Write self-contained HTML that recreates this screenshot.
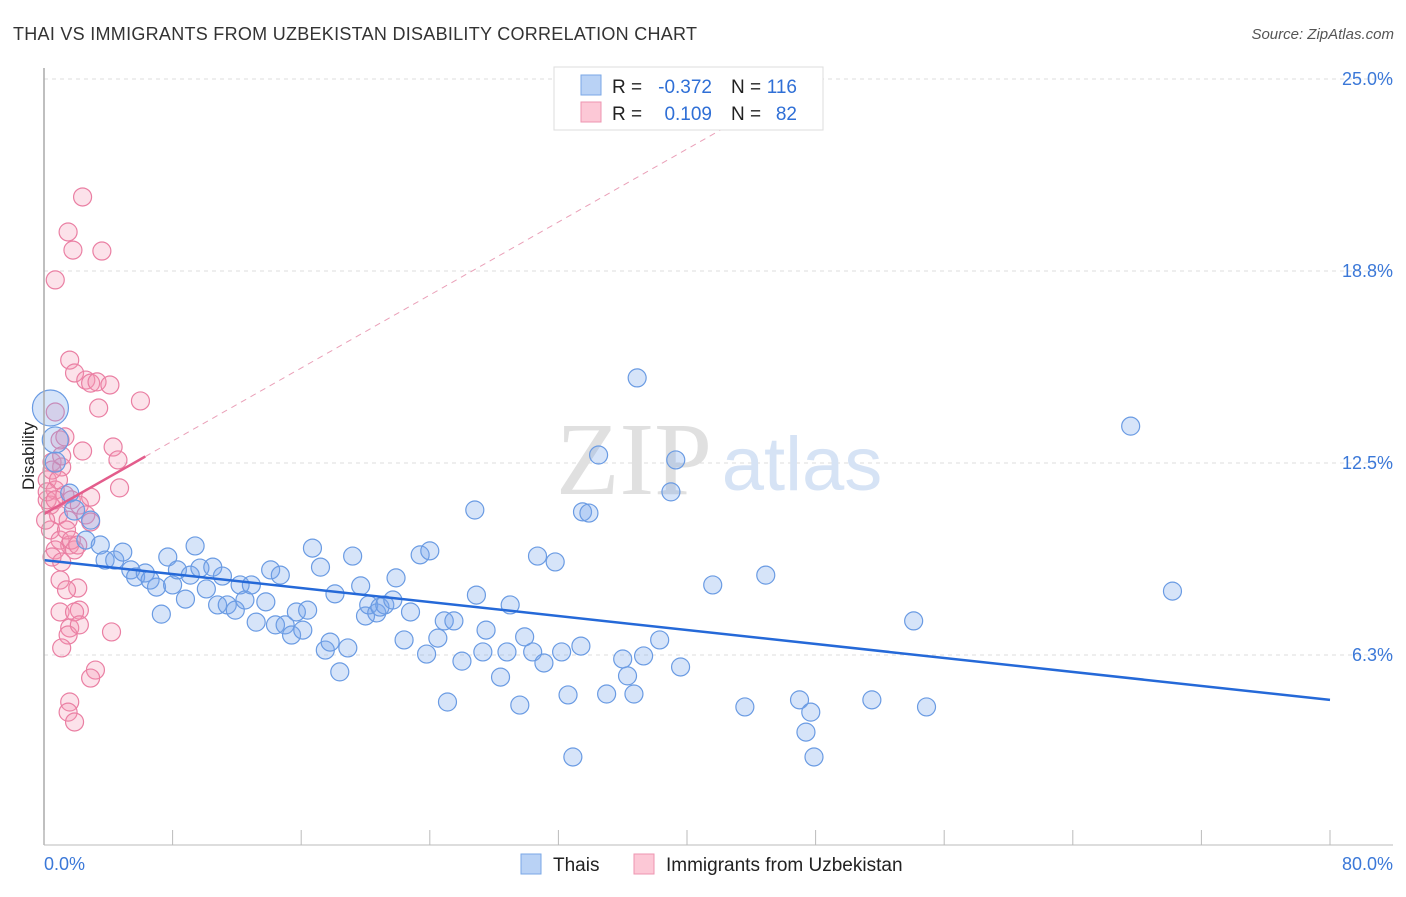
<!DOCTYPE html>
<html><head><meta charset="utf-8"><style>
body{margin:0;background:#fff;font-family:"Liberation Sans",sans-serif}
</style></head><body>
<svg id="chart" width="1406" height="892" viewBox="0 0 1406 892" xmlns="http://www.w3.org/2000/svg" font-family="Liberation Sans, sans-serif">
<text x="13" y="40" font-size="18" fill="#333" textLength="684">THAI VS IMMIGRANTS FROM UZBEKISTAN DISABILITY CORRELATION CHART</text>
<text x="1394" y="39" font-size="15" fill="#555" text-anchor="end" font-style="italic">Source: ZipAtlas.com</text>
<g id="grid"></g>
<g><text x="634" y="494" font-size="104" fill="#e0e0e0" font-family="Liberation Serif, serif" text-anchor="middle">ZIP</text><text x="802" y="490" font-size="76" fill="#d6e3f5" text-anchor="middle">atlas</text></g>
<g id="pts"></g>
<g id="trend"></g>
<g id="axes"></g>
<text transform="translate(34,456) rotate(-90)" font-size="17" fill="#222" text-anchor="middle">Disability</text>
<g font-size="19">
<rect x="554" y="67" width="269" height="63" fill="#fff" stroke="#ddd"/>
<rect x="581" y="75" width="20" height="20" fill="#b9d2f5" stroke="#7aa7e6"/>
<rect x="581" y="102" width="20" height="20" fill="#fcc8d6" stroke="#ee95b0"/>
<text x="612" y="93" fill="#222">R =</text>
<text x="712" y="93" fill="#2f6fd6" text-anchor="end">-0.372</text>
<text x="731" y="93" fill="#222">N =</text>
<text x="797" y="93" fill="#2f6fd6" text-anchor="end">116</text>
<text x="612" y="120" fill="#222">R =</text>
<text x="712" y="120" fill="#2f6fd6" text-anchor="end">0.109</text>
<text x="731" y="120" fill="#222">N =</text>
<text x="797" y="120" fill="#2f6fd6" text-anchor="end">82</text>
</g>
<g>
<rect x="521" y="854" width="20" height="20" fill="#b9d2f5" stroke="#7aa7e6"/>
<text x="553" y="871" font-size="19" fill="#222">Thais</text>
<rect x="634" y="854" width="20" height="20" fill="#fcc8d6" stroke="#ee95b0"/>
<text x="666" y="871" font-size="19" fill="#222">Immigrants from Uzbekistan</text>
</g>
</svg>
<script>
const yTicks=[25,18.75,12.5,6.25];
const yTickLabels=["25.0%","18.8%","12.5%","6.3%"];
const xTicks=[0,8,16,24,32,40,48,56,64,72,80];
const xTickLabels=["0.0%","80.0%"];
const blueX=[0.4,0.7,0.7,1.6,1.9,2.9,2.6,3.5,3.8,4.4,4.9,5.4,5.7,6.3,6.6,7.0,7.3,7.7,8.0,8.3,8.8,9.1,9.4,9.7,10.1,10.5,10.8,11.1,11.4,11.9,12.2,12.5,12.9,13.2,13.8,14.1,14.7,14.4,15.0,15.4,15.7,16.1,16.4,16.7,17.2,17.5,17.8,18.1,18.4,18.9,19.2,19.7,20.0,20.2,20.7,20.9,21.2,21.7,21.9,22.4,22.8,23.4,23.8,24.0,24.5,24.9,25.1,25.5,26.0,26.8,26.9,27.3,27.5,28.4,28.8,29.0,29.6,29.9,30.4,30.7,31.1,31.8,32.2,32.6,32.9,33.4,33.5,33.9,34.5,35.0,36.0,36.3,36.7,36.9,37.3,38.3,39.0,39.3,39.6,41.6,43.6,44.9,47.0,47.4,47.7,47.9,51.5,54.1,54.9,67.6,70.2];
const blueY=[14.29,13.25,12.53,11.52,10.97,10.64,9.99,9.83,9.34,9.34,9.60,9.02,8.79,8.92,8.69,8.46,7.58,9.44,8.53,9.02,8.07,8.85,9.80,9.08,8.40,9.11,7.88,8.82,7.88,7.71,8.53,8.04,8.53,7.32,7.98,9.02,8.85,7.23,7.23,6.90,7.65,7.06,7.71,9.73,9.11,6.41,6.67,8.24,5.70,6.48,9.47,8.50,7.52,7.88,7.62,7.81,7.88,8.04,8.76,6.74,7.65,9.51,6.28,9.64,6.80,7.36,4.72,7.36,6.05,10.97,8.20,6.35,7.06,5.53,6.35,7.88,4.62,6.84,6.35,9.47,5.99,9.28,6.35,4.95,2.93,6.54,10.91,10.87,12.76,4.98,6.12,5.57,4.98,15.27,6.22,6.74,11.56,12.60,5.86,8.53,4.56,8.85,4.79,3.74,4.39,2.93,4.79,7.36,4.56,13.70,8.33];
const blueR=[18,13,10,9,10,9,9,9,9,9,9,9,9,9,9,9,9,9,9,9,9,9,9,9,9,9,9,9,9,9,9,9,9,9,9,9,9,9,9,9,9,9,9,9,9,9,9,9,9,9,9,9,9,9,9,9,9,9,9,9,9,9,9,9,9,9,9,9,9,9,9,9,9,9,9,9,9,9,9,9,9,9,9,9,9,9,9,9,9,9,9,9,9,9,9,9,9,9,9,9,9,9,9,9,9,9,9,9,9,9,9];
const pinkX=[2.4,1.5,1.8,3.6,0.7,1.6,1.9,2.6,2.9,3.3,4.1,3.4,6.0,0.7,1.0,0.5,1.3,2.4,4.3,4.6,4.7,1.1,0.2,0.7,1.3,1.7,2.2,0.4,0.9,1.5,2.6,2.9,0.4,1.0,1.6,0.7,1.9,0.5,1.1,0.2,0.5,0.9,0.1,1.0,2.1,1.4,1.0,2.2,1.9,1.6,1.5,2.2,4.2,1.1,3.2,2.9,1.6,1.5,1.9,2.9,1.1,0.2,0.7,1.4,1.7,2.1];
const pinkY=[21.16,20.02,19.43,19.40,18.46,15.85,15.43,15.20,15.10,15.14,15.04,14.29,14.52,14.16,13.25,12.53,13.35,12.89,13.02,12.60,11.69,12.37,11.95,11.62,11.46,11.30,11.13,11.13,10.81,10.64,10.81,10.58,10.32,9.99,9.83,9.67,9.67,9.44,9.28,11.30,12.27,11.95,10.64,8.69,8.43,8.37,7.65,7.71,7.65,7.13,6.90,7.23,7.00,6.48,5.76,5.50,4.72,4.39,4.07,11.39,12.73,11.56,11.30,10.32,9.99,9.83];
const blueTrend=[9.34,-0.0569];
const pinkTrend=[10.84,0.297];
const pinkSolidEnd=6.3;

const L=44,R=1330,T=79,B=847;
const sx=v=>L+v/80*(R-L);
const sy=v=>B-v/25*(B-T);
const NS="http://www.w3.org/2000/svg";
function mk(tag,attrs,parent){const e=document.createElementNS(NS,tag);for(const k in attrs)e.setAttribute(k,attrs[k]);parent.appendChild(e);return e;}
const grid=document.getElementById('grid'),axes=document.getElementById('axes'),pts=document.getElementById('pts'),trend=document.getElementById('trend');
yTicks.forEach((t,i)=>{
 const g=mk('line',{x1:L,x2:1393,y1:sy(t),y2:sy(t),stroke:'#dcdcdc','stroke-dasharray':'4,4'},grid);
 
 
 const tx=mk('text',{x:1393,y:sy(t)+6,'font-size':18,fill:'#3b78d8','text-anchor':'end'},axes);
 tx.textContent=yTickLabels[i];
 
 
});
const ax=mk('line',{x1:L,x2:L,y1:68,y2:845,stroke:'#aaa','stroke-width':1.5},axes);


const bx=mk('line',{x1:L,x2:1393,y1:845,y2:845,stroke:'#bbb'},axes);


xTicks.forEach(t=>{
 const tk=mk('line',{x1:sx(t),x2:sx(t),y1:830,y2:845,stroke:'#bbb'},axes);
 
 
});
const xl0=mk('text',{x:44,y:870,'font-size':18,fill:'#3b78d8'},axes);xl0.textContent=xTickLabels[0];


const xl1=mk('text',{x:1393,y:870,'font-size':18,fill:'#3b78d8','text-anchor':'end'},axes);xl1.textContent=xTickLabels[1];


pinkX.forEach((x,i)=>{
 const c=mk('circle',{cx:sx(x),cy:sy(pinkY[i]),r:9,fill:'rgba(244,150,180,0.28)',stroke:'#ea7fa3','stroke-width':1.2},pts);
 
 
});
blueX.forEach((x,i)=>{
 const c=mk('circle',{cx:sx(x),cy:sy(blueY[i]),r:blueR[i],fill:'rgba(120,165,235,0.3)',stroke:'#6a9be3','stroke-width':1.2},pts);
 
 
});
const bl=mk('line',{x1:sx(0),y1:sy(blueTrend[0]),x2:sx(80),y2:sy(blueTrend[0]+80*blueTrend[1]),stroke:'#2569d8','stroke-width':2.5},trend);


const xEnd=(25-pinkTrend[0])/pinkTrend[1];
const pd=mk('line',{x1:sx(pinkSolidEnd),y1:sy(pinkTrend[0]+pinkSolidEnd*pinkTrend[1]),x2:sx(xEnd),y2:sy(25),stroke:'#eaa0b8','stroke-width':1,'stroke-dasharray':'6,5'},trend);


const pl=mk('line',{x1:sx(0),y1:sy(pinkTrend[0]),x2:sx(pinkSolidEnd),y2:sy(pinkTrend[0]+pinkSolidEnd*pinkTrend[1]),stroke:'#e35d8c','stroke-width':2.5},trend);


</script>
</body></html>
